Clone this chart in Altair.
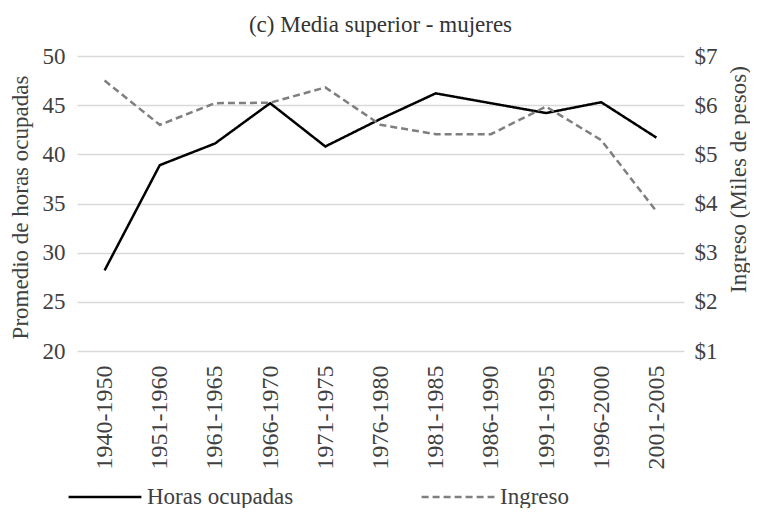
import altair as alt
import pandas as pd

periodos = ["1940-1950", "1951-1960", "1961-1965", "1966-1970", "1971-1975",
            "1976-1980", "1981-1985", "1986-1990", "1991-1995", "1996-2000", "2001-2005"]
horas = [28.2, 38.9, 41.1, 45.2, 40.8, 43.6, 46.2, 45.2, 44.2, 45.3, 41.7]
ingreso = [6.50, 5.60, 6.04, 6.05, 6.36, 5.60, 5.41, 5.41, 5.97, 5.29, 3.84]
series = ["Horas ocupadas", "Ingreso"]
left_ticks = [20, 25, 30, 35, 40, 45, 50]
right_ticks = [1, 2, 3, 4, 5, 6, 7]

df_h = pd.DataFrame({"periodo": periodos, "valor": horas, "serie": series[0]})
df_i = pd.DataFrame({"periodo": periodos, "valor": ingreso, "serie": series[1]})

FONT = "Liberation Serif"
TXT = "#404040"

legend = alt.Legend(
    title=None, orient="none", legendX=-10, legendY=403, direction="horizontal",
    symbolType="stroke", symbolSize=5300, symbolStrokeWidth=2.5,
    labelFont=FONT, labelFontSize=23, labelColor=TXT, labelOffset=4,
    columnPadding=122, padding=0,
)

color = alt.Color("serie:N", scale=alt.Scale(domain=series, range=["#000000", "#7f7f7f"]), legend=legend)
dash = alt.StrokeDash("serie:N", scale=alt.Scale(domain=series, range=[[1, 0], [7, 4]]), legend=legend)
x = alt.X("periodo:N", sort=periodos, title=None,
          axis=alt.Axis(labelAngle=270, labelPadding=14, grid=False, labelFont=FONT,
                        labelFontSize=24))

left = alt.Chart(df_h).mark_line(strokeWidth=2.5).encode(
    x=x,
    y=alt.Y("valor:Q", scale=alt.Scale(domain=[20, 50], nice=False, zero=False),
            axis=alt.Axis(values=left_ticks, title="Promedio de horas ocupadas",
                          grid=True, labelPadding=12, titlePadding=10, titleY=151,
                          labelFont=FONT, titleFont=FONT)),
    color=color, strokeDash=dash,
)

right = alt.Chart(df_i).mark_line(strokeWidth=2.5).encode(
    x=x,
    y=alt.Y("valor:Q", scale=alt.Scale(domain=[1, 7], nice=False, zero=False),
            axis=alt.Axis(values=right_ticks, orient="right", title="Ingreso (Miles de pesos)",
                          grid=False, labelExpr="'$' + datum.value", labelPadding=10,
                          titlePadding=10, titleAngle=270, titleBaseline="top", titleY=123,
                          labelFont=FONT, titleFont=FONT)),
    color=color, strokeDash=dash,
)

chart = alt.layer(left, right).resolve_scale(y="independent").properties(
    width=607, height=295,
    title=alt.TitleParams("(c) Media superior - mujeres", font=FONT, fontSize=23,
                          fontWeight="normal", color="#333333", offset=8),
    autosize=alt.AutoSizeParams(type="none"),
    padding={"left": 69, "top": 48, "right": 66, "bottom": 157},
).configure(font=FONT).configure_view(stroke=None).configure_axis(
    labelFont=FONT, titleFont=FONT, labelFontSize=23, titleFontSize=23,
    labelColor=TXT, titleColor=TXT, titleFontWeight="normal",
    domain=False, ticks=False, tickSize=0,
    gridColor="#d9d9d9", gridWidth=1.5,
).configure_legend(labelFont=FONT)

chart.save("out.html", embed_options={"renderer": "svg", "actions": False})
